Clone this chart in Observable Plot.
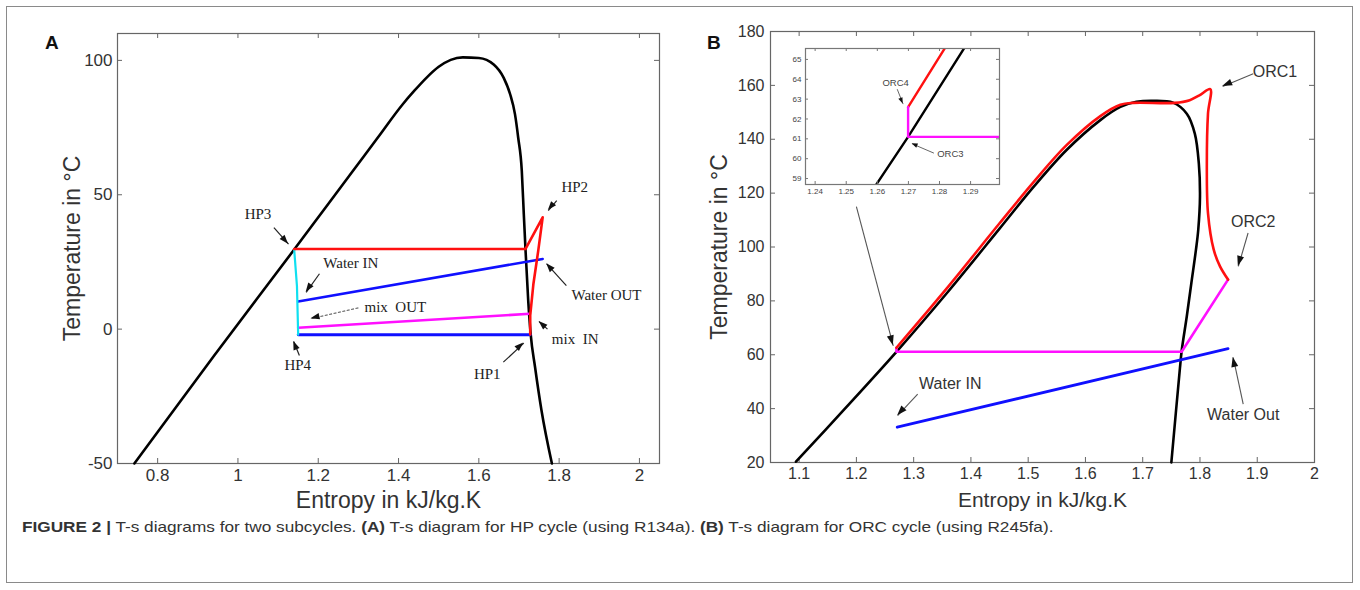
<!DOCTYPE html>
<html><head><meta charset="utf-8">
<script src="https://cdn.jsdelivr.net/npm/d3@7"></script>
<script src="https://cdn.jsdelivr.net/npm/@observablehq/plot@0.6"></script>
<style>
html,body{margin:0;padding:0;background:#fff;}
#fig{position:relative;width:1360px;height:590px;overflow:hidden;font-family:"Liberation Sans",Arial,sans-serif;background:#fff;}
#border{position:absolute;left:6px;top:6px;width:1347px;height:577px;border:1px solid #8a8a8a;box-sizing:border-box;}
.abs{position:absolute;}
.letter{position:absolute;font-weight:bold;font-size:19px;color:#111;line-height:20px;}
#caption{position:absolute;left:22px;top:518px;font-size:15px;line-height:17px;color:#333;white-space:nowrap;transform:scaleX(1.147);transform-origin:0 0;}
</style></head><body>
<div id="fig">
  <div id="border"></div>
  <div id="pA" class="abs" style="left:0;top:0"></div>
  <div id="pB" class="abs" style="left:680px;top:0"></div>
  <div id="pI" class="abs" style="left:780px;top:40px"></div>
  <div class="letter" style="left:45px;top:33px">A</div>
  <div class="letter" style="left:707px;top:33px">B</div>
  <div id="caption"><b>FIGURE 2 |</b> T-s diagrams for two subcycles. <b>(A)</b> T-s diagram for HP cycle (using R134a). <b>(B)</b> T-s diagram for ORC cycle (using R245fa).</div>
</div>
<script>
// ---------- Panel A (R134a heat pump) ----------
const xTicksA = [0.8, 1, 1.2, 1.4, 1.6, 1.8, 2];
const yTicksA = [-50, 0, 50, 100];
const satA = [[0.742,-50],[0.94,-10],[1.141,29.8],[1.216,44.8],[1.282,58],[1.348,71.2],[1.41,83.6],[1.44,88.8],[1.47,93.6],[1.50,97.6],[1.53,100.2],[1.56,101.1],[1.60,100.9],[1.637,98.5],[1.662,93.5],[1.678,87.4],[1.690,80],[1.698,71.3],[1.707,58.9],[1.712,42.8],[1.716,30.4],[1.723,10.6],[1.729,-1.7],[1.740,-14.1],[1.756,-30.2],[1.782,-50]];
const hpRed = [[1.728,-2.0],[1.728,5.1],[1.736,16.9],[1.748,29.2],[1.759,41.6],[1.716,29.8],[1.140,29.8]];
const hpCyan = [[1.140,29.8],[1.147,16],[1.150,-2.1]];
const hpEvap = [[1.150,-2.1],[1.728,-2.1]];
const hpWater = [[1.150,10.3],[1.759,26.1]];
const hpMix = [[1.150,0.5],[1.727,5.7]];
const labelsA = [
  {s:1.050,T:42.6,text:"HP3"},{s:1.839,T:52.8,text:"HP2"},{s:1.281,T:24.6,text:"Water IN"},
  {s:1.392,T:8.2,text:"mix  OUT"},{s:1.149,T:-13.5,text:"HP4"},{s:1.918,T:12.5,text:"Water OUT"},
  {s:1.840,T:-3.6,text:"mix  IN"},{s:1.621,T:-16.6,text:"HP1"}];
const arrowsA = [
  {x1:1.0896,y1:37.8,x2:1.126,y2:31.6},{x1:1.794,y1:47.8,x2:1.773,y2:44.1},
  {x1:1.203,y1:20.6,x2:1.170,y2:13.7},{x1:1.153,y1:-9.8,x2:1.139,y2:-4.6},
  {x1:1.818,y1:16.2,x2:1.769,y2:24.3},{x1:1.771,y1:0.0,x2:1.750,y2:2.8},
  {x1:1.661,y1:-12.3,x2:1.712,y2:-5.2}];
const arrowsAgray = [{x1:1.300,y1:7.9,x2:1.182,y2:3.9}];

// ---------- Panel B (R245fa ORC) ----------
const xTicksB = [1.1, 1.2, 1.3, 1.4, 1.5, 1.6, 1.7, 1.8, 1.9, 2];
const yTicksB = [20, 40, 60, 80, 100, 120, 140, 160, 180];
const satB = [[1.0945,20.3],[1.18,40],[1.2699,61.1],[1.36,83.4],[1.45,106.8],[1.509,122.2],[1.567,136],[1.626,147.1],[1.661,152],[1.689,153.9],[1.718,154.3],[1.753,153.6],[1.777,149.5],[1.791,142.1],[1.798,131],[1.800,118.7],[1.797,106.4],[1.793,99],[1.785,86.7],[1.777,74.3],[1.768,61.4],[1.765,55],[1.750,20]];
const orcRed = [[1.2699,62.6],[1.36,85.2],[1.45,108.8],[1.509,124.0],[1.567,137.8],[1.626,148.6],[1.661,152.8],[1.684,153.5],[1.756,153.5],[1.782,154.5],[1.799,156.3],[1.818,158.6],[1.814,149.5],[1.812,131],[1.814,112.6],[1.824,99],[1.835,92.8],[1.849,87.9]];
const orcMagenta = [[1.849,87.9],[1.768,61.1],[1.2699,61.1],[1.2699,62.6]];
const orcWater = [[1.2713,33.1],[1.849,62.3]];
const labelsB = [
  {s:1.931,T:164.9,text:"ORC1"},{s:1.893,T:109.5,text:"ORC2"},
  {s:1.8755,T:37.7,text:"Water Out"},{s:1.364,T:49.1,text:"Water IN"}];
const arrowsB = [
  {x1:1.893,y1:164.3,x2:1.8396,y2:159.6},{x1:1.884,y1:105.2,x2:1.867,y2:92.8},
  {x1:1.8755,y1:41.7,x2:1.858,y2:59.0},{x1:1.307,y1:45.4,x2:1.272,y2:37.4},
  {x1:1.200,y1:115.0,x2:1.2645,y2:63.3}];

// ---------- Inset (zoom near ORC3/ORC4) ----------
const xTicksI = [1.24, 1.25, 1.26, 1.27, 1.28, 1.29];
const yTicksI = [59, 60, 61, 62, 63, 64, 65];
const labelsI = [{s:1.2659,T:63.8,text:"ORC4"},{s:1.2835,T:60.25,text:"ORC3"}];
const arrowsI = [{x1:1.2664,y1:63.5,x2:1.2683,y2:62.75},{x1:1.2782,y1:60.28,x2:1.2712,y2:60.75}];

const pts = a => a.map(([s, T]) => ({s, T}));
const fmt = d => String(d);

function frameTicks(xTicks, yTicks, pw, ph, len, color) {
  return [
    Plot.tickX(xTicks, {x: d => d, insetTop: ph - len, stroke: color}),
    Plot.tickX(xTicks, {x: d => d, insetBottom: ph - len, stroke: color}),
    Plot.tickY(yTicks, {y: d => d, insetRight: pw - len, stroke: color}),
    Plot.tickY(yTicks, {y: d => d, insetLeft: pw - len, stroke: color}),
    Plot.frame({stroke: color, strokeWidth: 1.2})
  ];
}

function line(a, color, w, extra = {}) {
  return Plot.line(pts(a), {x: "s", y: "T", stroke: color, strokeWidth: w, ...extra});
}

// arrow = thin shaft (Plot.link) + filled head placed through the plot's own scales
function arrows(data, shaftColor, shaftWidth, headLen, headWid, extra = {}) {
  const heads = (index, scales) => {
    const g = d3.create("svg:g").attr("fill", "#111");
    for (const a of data) {
      const x1 = scales.x(a.x1), y1 = scales.y(a.y1), x2 = scales.x(a.x2), y2 = scales.y(a.y2);
      const ang = Math.atan2(y2 - y1, x2 - x1);
      const bx = x2 - headLen * Math.cos(ang), by = y2 - headLen * Math.sin(ang);
      const px = -Math.sin(ang) * headWid / 2, py = Math.cos(ang) * headWid / 2;
      g.append("path").attr("d", `M${x2},${y2}L${bx + px},${by + py}L${bx - px},${by - py}Z`);
    }
    return g.node();
  };
  return [
    Plot.link(data, {x1: "x1", y1: "y1", x2: "x2", y2: "y2", stroke: shaftColor, strokeWidth: shaftWidth, ...extra}),
    heads
  ];
}

// Panel A
{
  const W = 680, H = 520, ml = 117, mr = 21, mt = 33, mb = 57;
  const pw = W - ml - mr, ph = H - mt - mb;
  const plot = Plot.plot({
    width: W, height: H, marginLeft: ml, marginRight: mr, marginTop: mt, marginBottom: mb,
    style: {fontFamily: "'Liberation Sans', Arial, sans-serif", fontSize: "17px", color: "#333", background: "transparent", overflow: "visible"},
    x: {domain: [0.7, 2.05]},
    y: {domain: [-50, 110]},
    marks: [
      ...frameTicks(xTicksA, yTicksA, pw, ph, 5, "#666"),
      Plot.axisX({ticks: xTicksA, tickSize: 0, tickPadding: 5, tickFormat: fmt, label: null, fontSize: 17}),
      Plot.axisY({ticks: yTicksA, tickSize: 0, tickPadding: 5, tickFormat: fmt, label: null, fontSize: 17}),
      line(satA, "#000", 2.6, {curve: "monotone-x"}),
      line(hpWater, "#1010ff", 2.6),
      line(hpMix, "#ff10ff", 2.6),
      line(hpEvap, "#1010ff", 2.8),
      line(hpCyan, "#10e0f0", 2.2),
      line(hpRed, "#ff1010", 2.6),
      ...arrows(arrowsA, "#222", 1.2, 9, 6.5),
      ...arrows(arrowsAgray, "#666", 1.1, 9, 6.5, {strokeDasharray: "3,1.5"}),
      Plot.text(labelsA, {x: "s", y: "T", text: "text", fontFamily: "'Liberation Serif', 'DejaVu Serif', serif", fontSize: 15, fill: "#222", style: "white-space:pre"}),
      Plot.text(["Entropy in kJ/kg.K"], {text: d => d, frameAnchor: "bottom", lineAnchor: "middle", textAnchor: "middle", dy: 37, fontSize: 23, fill: "#333"}),
      Plot.text(["Temperature in °C"], {text: d => d, frameAnchor: "left", textAnchor: "middle", lineAnchor: "middle", rotate: -90, dx: -45, fontSize: 23, fill: "#333"})
    ]
  });
  document.getElementById("pA").append(plot);
}

// Panel B
{
  const W = 680, H = 520, ml = 90, mr = 46, mt = 31, mb = 58;
  const pw = W - ml - mr, ph = H - mt - mb;
  const plot = Plot.plot({
    width: W, height: H, marginLeft: ml, marginRight: mr, marginTop: mt, marginBottom: mb,
    style: {fontFamily: "'Liberation Sans', Arial, sans-serif", fontSize: "16px", color: "#333", background: "transparent", overflow: "visible"},
    x: {domain: [1.05, 2.0]},
    y: {domain: [20, 180]},
    marks: [
      ...frameTicks(xTicksB, yTicksB, pw, ph, 5, "#666"),
      Plot.axisX({ticks: xTicksB, tickSize: 0, tickPadding: 5, tickFormat: fmt, label: null, fontSize: 16}),
      Plot.axisY({ticks: yTicksB, tickSize: 0, tickPadding: 6, tickFormat: fmt, label: null, fontSize: 16}),
      line(satB, "#000", 2.6, {curve: "catmull-rom"}),
      line(orcWater, "#1010ff", 2.8),
      line(orcMagenta, "#ff10ff", 2.6),
      line(orcRed, "#ff1010", 2.6, {curve: "catmull-rom"}),
      ...arrows(arrowsB, "#555", 1.1, 10, 7),
      Plot.text(labelsB, {x: "s", y: "T", text: "text", fontSize: 16, fill: "#333"}),
      Plot.text(["Entropy in kJ/kg.K"], {text: d => d, frameAnchor: "bottom", lineAnchor: "middle", textAnchor: "middle", dy: 38, fontSize: 21, fill: "#333"}),
      Plot.text(["Temperature in °C"], {text: d => d, frameAnchor: "left", textAnchor: "middle", lineAnchor: "middle", rotate: -90, dx: -51, fontSize: 23, fill: "#333"})
    ]
  });
  document.getElementById("pB").append(plot);
}

// Inset
{
  const W = 221, H = 162, ml = 25, mr = 2, mt = 8, mb = 18;
  const pw = W - ml - mr, ph = H - mt - mb;
  const plot = Plot.plot({
    width: W, height: H, marginLeft: ml, marginRight: mr, marginTop: mt, marginBottom: mb,
    style: {fontFamily: "'Liberation Sans', Arial, sans-serif", fontSize: "8px", color: "#444", background: "transparent", overflow: "visible"},
    x: {domain: [1.2369, 1.2993]},
    y: {domain: [58.7, 65.55]},
    marks: [
      Plot.frame({fill: "#fff"}),
      line(satB, "#000", 2.4, {clip: true}),
      line(orcRed, "#ff1010", 2.4, {clip: true}),
      line(orcMagenta, "#ff10ff", 2.4, {clip: true}),
      ...frameTicks(xTicksI, yTicksI, pw, ph, 3, "#777"),
      Plot.axisX({ticks: xTicksI, tickSize: 0, tickPadding: 4, tickFormat: fmt, label: null, fontSize: 8}),
      Plot.axisY({ticks: yTicksI, tickSize: 0, tickPadding: 4, tickFormat: fmt, label: null, fontSize: 8}),
      ...arrows(arrowsI, "#555", 0.9, 6, 4.5),
      Plot.text(labelsI, {x: "s", y: "T", text: "text", fontSize: 9.5, fill: "#444"})
    ]
  });
  document.getElementById("pI").append(plot);
}
</script>
</body></html>
